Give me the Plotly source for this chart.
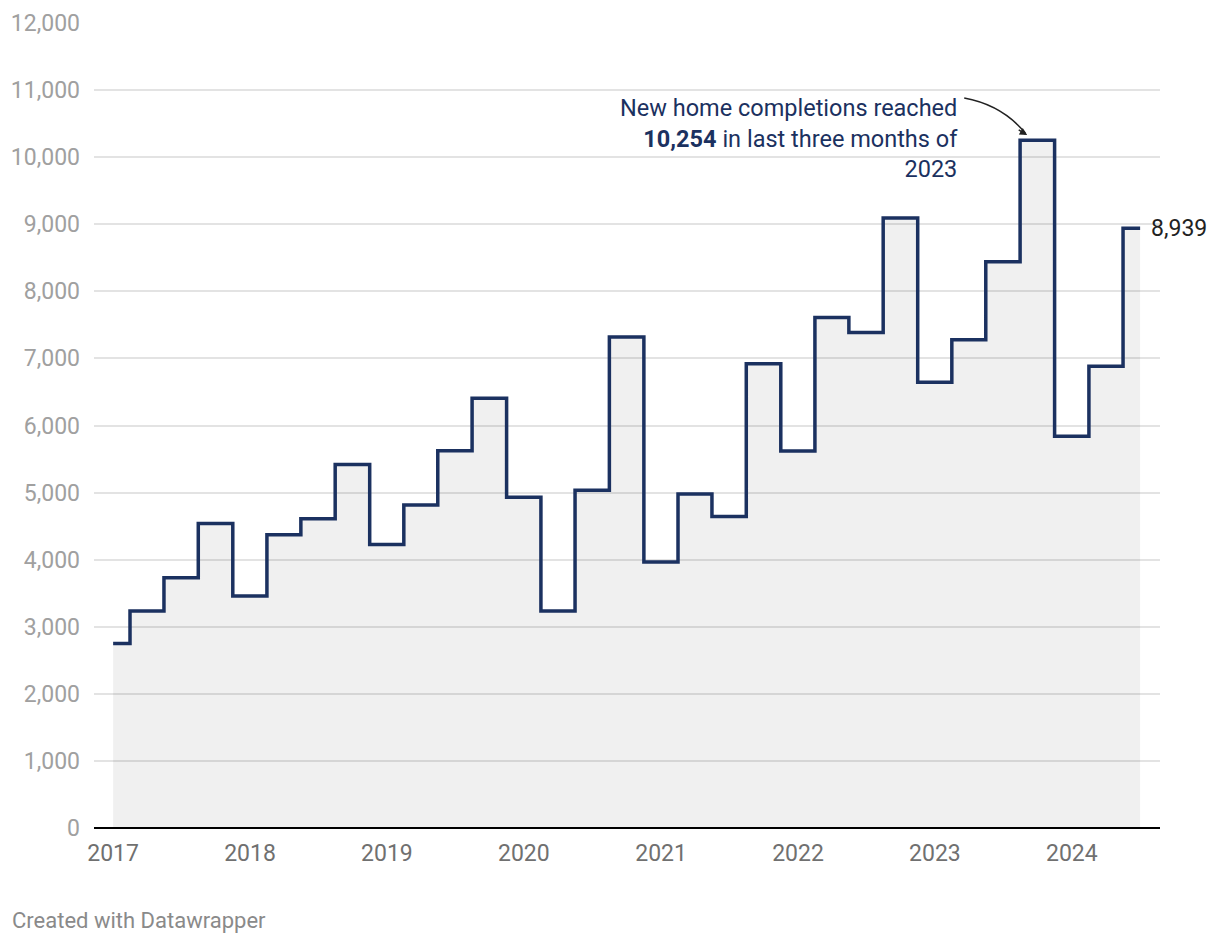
import plotly.graph_objects as go

quarters = [
    "2017-01-01", "2017-04-01", "2017-07-01", "2017-10-01",
    "2018-01-01", "2018-04-01", "2018-07-01", "2018-10-01",
    "2019-01-01", "2019-04-01", "2019-07-01", "2019-10-01",
    "2020-01-01", "2020-04-01", "2020-07-01", "2020-10-01",
    "2021-01-01", "2021-04-01", "2021-07-01", "2021-10-01",
    "2022-01-01", "2022-04-01", "2022-07-01", "2022-10-01",
    "2023-01-01", "2023-04-01", "2023-07-01", "2023-10-01",
    "2024-01-01", "2024-04-01", "2024-07-01",
]
completions = [
    2750, 3235, 3730, 4540,
    3460, 4370, 4610, 5420,
    4225, 4815, 5625, 6405,
    4930, 3235, 5035, 7320,
    3965, 4980, 4645, 6920,
    5620, 7610, 7385, 9095,
    6645, 7280, 8440, 10254,
    5840, 6885, 8939,
]
year_ticks = ["2017-01-01", "2018-01-01", "2019-01-01", "2020-01-01",
              "2021-01-01", "2022-01-01", "2023-01-01", "2024-01-01"]
year_labels = ["2017", "2018", "2019", "2020", "2021", "2022", "2023", "2024"]
y_ticks = list(range(0, 12001, 1000))
y_labels = [f"{v:,}" for v in y_ticks]

NAVY = "#1b3160"
FONT = "Roboto"

# page geometry (the page body adds an 8px offset)
PL, PR, PT, PB = 94, 1160, 23, 828
OFF = 8
PW, PH = PR - PL, PB - PT

fig = go.Figure()
fig.add_trace(go.Scatter(
    x=quarters, y=completions,
    mode="lines",
    line=dict(shape="hvh", color=NAVY, width=3.5),
    fill="tozeroy", fillcolor="rgba(0,0,0,0.06)",
    hoverinfo="x+y",
))

fig.update_layout(
    width=1220, height=944,
    margin=dict(l=PL - OFF, r=1220 - (PR - OFF), t=PT - OFF, b=944 - (PB - OFF)),
    paper_bgcolor="white", plot_bgcolor="white",
    showlegend=False,
    font=dict(family=FONT, size=23, color="#333333"),
    xaxis=dict(
        type="date", automargin=False,
        range=["2016-11-11", "2024-08-23"],
        tickvals=year_ticks, ticktext=year_labels,
        showgrid=False, zeroline=False,
        showline=False,
        ticks="", ticklabelstandoff=9,
        tickfont=dict(family=FONT, size=23, color="#707070"),
    ),
    yaxis=dict(
        range=[0, 12000], automargin=False,
        tickvals=y_ticks, ticktext=y_labels,
        showgrid=True, gridcolor="#e3e3e3", gridwidth=1.5,
        zeroline=True, zerolinecolor="#000000", zerolinewidth=2,
        showline=False, ticks="", ticklabelstandoff=13,
        tickfont=dict(family=FONT, size=23, color="#a0a0a0"),
    ),
)

fig.add_annotation(
    x=quarters[-1], y=completions[-1], xref="x", yref="y",
    text=f"{completions[-1]:,}", showarrow=False,
    xanchor="left", yanchor="middle", xshift=9,
    font=dict(family=FONT, size=23, color="#222222"),
)

fig.add_annotation(
    x=(960 - PL) / PW, y=(PB - 138.5) / PH, xref="paper", yref="paper",
    text=("New home completions reached<br><b>10,254</b> in last three months of<br>2023"),
    showarrow=False, xanchor="right", yanchor="middle", align="right",
    font=dict(family=FONT, size=23.5, color=NAVY),
)

# curved arrow to the peak
fig.add_shape(
    type="path", xref="x", yref="y",
    xsizemode="pixel", ysizemode="pixel",
    xanchor="2023-09-04", yanchor=10330,
    path="M -63 37 Q -25 30 -2 2",
    line=dict(color="#222222", width=1.5),
)
fig.add_annotation(
    x="2023-09-04", y=10330, xref="x", yref="y",
    text="", showarrow=True, arrowhead=2, arrowsize=1, arrowwidth=1.5,
    arrowcolor="#222222", ax=-10, ay=-6,
)

fig.add_annotation(
    x=(10 - PL) / PW, y=(PB - 920) / PH, xref="paper", yref="paper",
    text="Created with Datawrapper", showarrow=False,
    font=dict(family=FONT, size=22, color="#8a8a8a"),
    xanchor="left", yanchor="middle",
)

fig.write_html("out.html")
